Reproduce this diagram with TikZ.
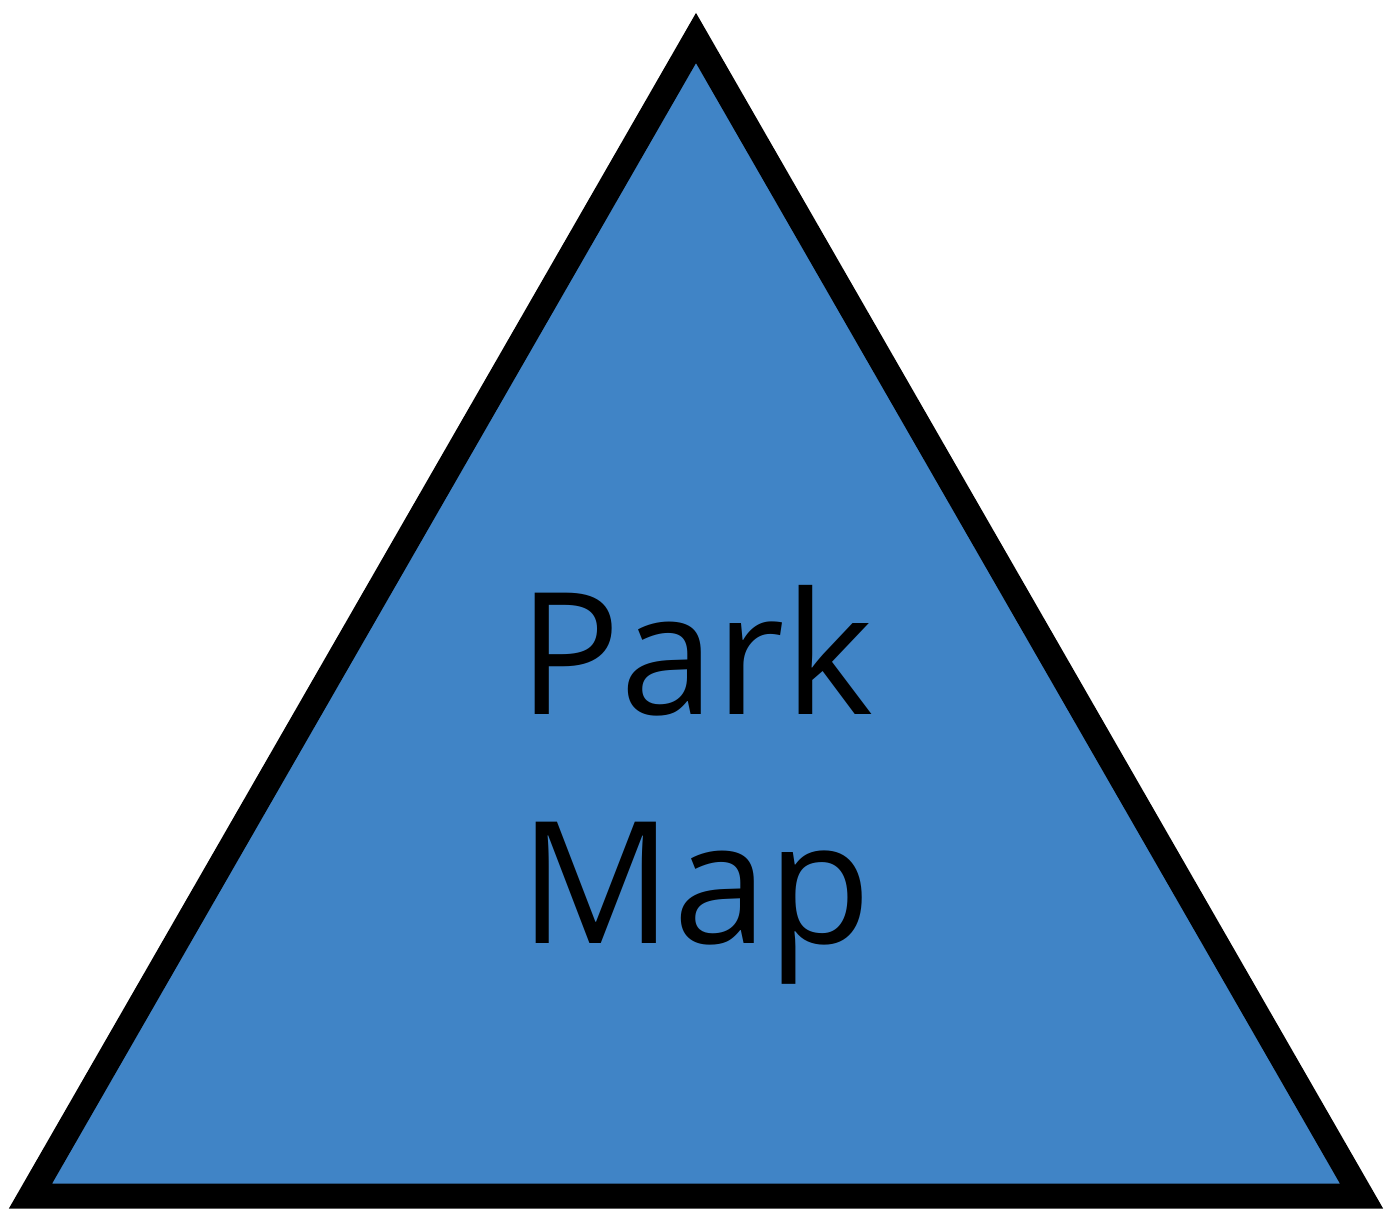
\documentclass[tikz,border=0pt]{standalone}
\usepackage{fontspec}
\setmainfont{Open Sans}
\usetikzlibrary{positioning}
\definecolor{mapblue}{RGB}{64,132,198}

\begin{document}
\begin{tikzpicture}[
    x=0.5pt, y=-0.5pt,
    mapedge/.style ={draw=black, line width=12.5pt, miter limit=10,
                     fill=mapblue},
    maplabel/.style={align=center, inner sep=0pt, text=black,
                     font=\fontsize{85pt}{114.5pt}\selectfont},
]
% page frame
\useasboundingbox (0,0) rectangle (1392,1222);
% triangle corners
\coordinate (apex)  at (696,38);
\coordinate (left)  at (30.5,1196);
\coordinate (right) at (1361.5,1196);
\draw[mapedge] (apex) -- (left) -- (right) -- cycle;
% label
\node[maplabel] (park) at (696,785) {Park\\Map};
\end{tikzpicture}
\end{document}
